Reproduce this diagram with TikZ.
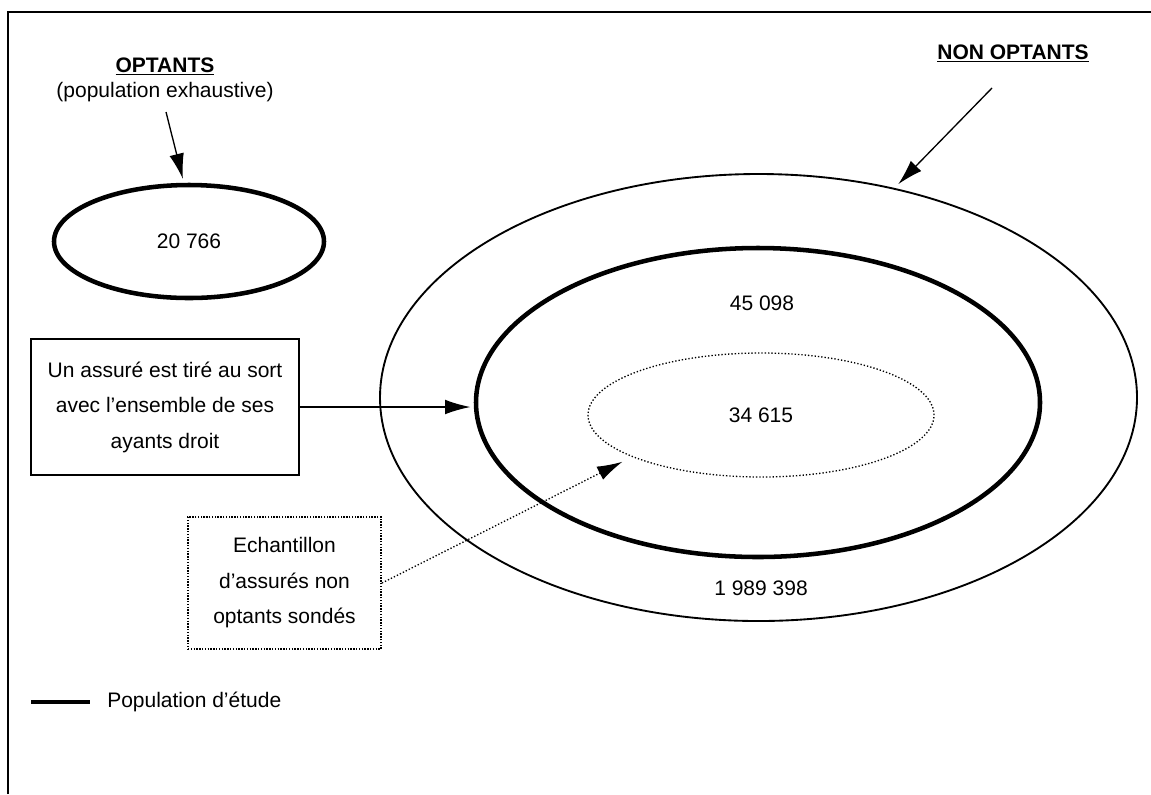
\documentclass[tikz,border=0pt]{standalone}
\usepackage{fontspec}
\setmainfont{Liberation Sans}
\usetikzlibrary{shapes.geometric,arrows.meta}
\begin{document}
\begin{tikzpicture}[x=0.75pt,y=-0.75pt,
  every node/.style={font=\fontsize{15.75pt}{26.6pt}\selectfont, inner sep=0pt},
  thickell/.style={draw, ellipse, line width=3.4pt},
  thinell/.style={draw, ellipse, line width=1.4pt},
  dotell/.style={draw, ellipse, line width=1pt, dash pattern=on 1pt off 1.5pt},
  arr/.style={-{Latex[length=19pt,width=11pt]}, line width=1pt},
  dotarr/.style={arr, dash pattern=on 1pt off 1.5pt},
  framel/.style={line width=1.5pt},
  solidbox/.style={draw, line width=1.5pt, align=center},
  dotbox/.style={draw, line width=1.4pt, dash pattern=on 1.1pt off 1pt, align=center},
  legendline/.style={line width=3pt}
]
\useasboundingbox (0,0) rectangle (1151,794);
% frame
\coordinate (fbl) at (8,794);
\coordinate (ftl) at (8,12);
\coordinate (ftr) at (1151,12);
\draw[framel] (fbl) -- (ftl) -- (ftr);

% ellipses
\node[thinell, minimum width=567.75pt, minimum height=335.25pt] (outer) at (758.5,397.5) {};
\node[thickell, minimum width=423pt, minimum height=231.75pt] (study) at (758,402.5) {};
\node[dotell, minimum width=259.5pt, minimum height=93pt] (sample) at (761,415) {34 615};
\node[thickell, minimum width=202.5pt, minimum height=84.75pt] (opt) at (189,241.5) {20 766};

% labels
\node[anchor=base] (lopt) at (165,72) {\textbf{\underline{OPTANTS}}};
\node[anchor=base] (lpop) at (165,97) {(population exhaustive)};
\node[anchor=base] (lnon) at (1013,59) {\textbf{\underline{NON OPTANTS}}};
\node (n45) at (762,303) {45 098};
\node (n19) at (761,588) {1 989 398};

% boxes
\node[solidbox, minimum width=201pt, minimum height=102pt] (box1) at (165,407)
  {Un assuré est tiré au sort\\avec l’ensemble de ses\\ayants droit};
\node[dotbox, minimum width=144.75pt, minimum height=99pt] (dbox) at (284.5,583)
  {Echantillon\\d’assurés non\\optants sondés};

% arrows
\coordinate (a1s) at (166,112);
\draw[arr, shorten >=3pt] (a1s) -- (opt.95);
\coordinate (a2s) at (992,88);
\draw[arr, shorten >=4pt] (a2s) -- (outer.57);
\draw[arr, shorten >=2.5pt] (box1.east) -- (box1.east -| study.west);
\draw[dotarr, shorten >=8pt] (dbox.east) -- (sample.198);

% legend
\coordinate (lg1) at (31,702);
\coordinate (lg2) at (90,702);
\draw[legendline] (lg1) -- (lg2);
\node[anchor=west] (lgt) at (107,702) {Population d’étude};
\end{tikzpicture}
\end{document}
